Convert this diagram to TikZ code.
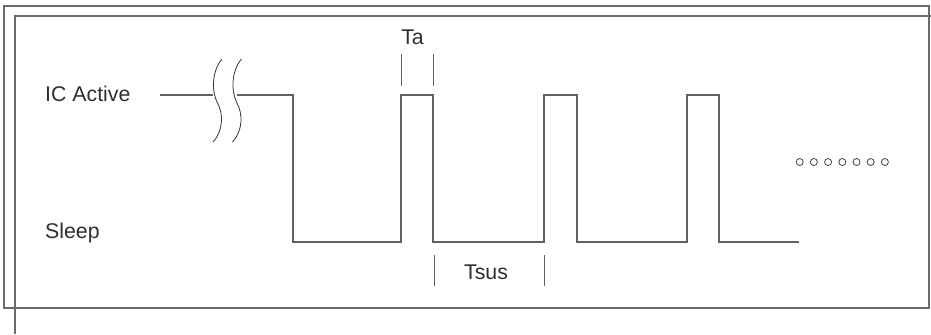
\documentclass[tikz,border=0pt]{standalone}
\usepackage{fontspec}
\setmainfont{Liberation Sans}
\begin{document}
\begin{tikzpicture}[x=1bp,y=-1bp,
  frame/.style={draw=black!58,line width=1.1bp},
  wave/.style={draw=black!62,line width=1.1bp,line join=miter},
  tick/.style={draw=black!62,line width=1bp},
  brk/.style={draw=black!80,line width=0.8bp},
  lbl/.style={inner sep=0pt,text=black!82,font=\fontsize{21.3bp}{25bp}\selectfont},
  dot/.style={draw=black!75,line width=0.8bp}]
\useasboundingbox (0,0) rectangle (931,334);
% frames
\draw[frame] (4,6) rectangle (929,308);
\draw[frame] (15,334) -- (15,16) -- (931,16);
% labels
\node[lbl,anchor=west] (act) at (45,93.5) {IC Active};
\node[lbl,anchor=west] (slp) at (45,232.5) {Sleep};
\node[lbl] (ta) at (412.5,37.5) {Ta};
\node[lbl] (tsus) at (486,272.5) {Tsus};
% waveform
\draw[wave] (160,95) -- (213,95);
\draw[wave] (237,95) -- (293,95) -- (293,242) -- (401,242) -- (401,95) -- (433,95)
  -- (433,242) -- (544,242) -- (544,95) -- (577,95) -- (577,242) -- (687,242)
  -- (687,95) -- (719,95) -- (719,242) -- (799,242);
% break marks
\foreach \dx in {0,19.5}{
  \draw[brk,xshift=\dx bp] (222,59) .. controls (211,72) and (212,93) .. (217.5,103)
    .. controls (223,113) and (224,130) .. (213,142);
}
% Ta ticks
\draw[tick] (401,54) -- (401,86);
\draw[tick] (433,54) -- (433,86);
% Tsus ticks
\draw[tick] (434,255) -- (434,286);
\draw[tick] (544,255) -- (544,286);
% dots
\foreach \i in {0,...,6}{
  \draw[dot] (799.7+14.2*\i,162) circle (3.5bp);
}
\end{tikzpicture}
\end{document}
